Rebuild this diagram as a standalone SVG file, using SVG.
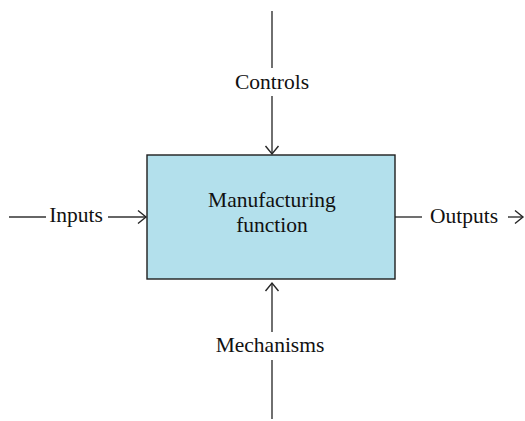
<svg xmlns="http://www.w3.org/2000/svg" width="525" height="421" viewBox="0 0 525 421">
<style>
.ln{stroke:#333333;stroke-width:1.4;fill:none}
.lbl{font-family:"Liberation Serif","Times New Roman",serif;font-size:21.5px;fill:#111111}
</style>
<defs>
<marker id="ah" viewBox="-10 -8 12 16" markerWidth="12" markerHeight="16" refX="0" refY="0" orient="auto" markerUnits="userSpaceOnUse">
<path d="M-8,-6.5 L0,0 L-8,6.5" fill="none" stroke="#262626" stroke-width="1.4"/>
</marker>
</defs>
<rect width="525" height="421" fill="#ffffff"/>
<g id="connectors">
<line class="ln" x1="272" y1="11" x2="272" y2="68"/>
<line class="ln" x1="272" y1="96" x2="272" y2="154" marker-end="url(#ah)"/>
<line class="ln" x1="272" y1="419" x2="272" y2="360"/>
<line class="ln" x1="272" y1="332" x2="272" y2="283" marker-end="url(#ah)"/>
<line class="ln" x1="9" y1="217" x2="46" y2="217"/>
<line class="ln" x1="108" y1="217" x2="146" y2="217" marker-end="url(#ah)"/>
<line class="ln" x1="395" y1="217" x2="422" y2="217"/>
<line class="ln" x1="508" y1="217" x2="523" y2="217" marker-end="url(#ah)"/>
</g>
<g id="function">
<rect x="147" y="155" width="248" height="124" fill="#b3e0ec" stroke="#1e1e1e" stroke-width="1.4"/>
<text class="lbl" x="272" y="207" text-anchor="middle">Manufacturing</text>
<text class="lbl" x="272" y="232" text-anchor="middle">function</text>
</g>
<g id="controls"><text class="lbl" x="272" y="89" text-anchor="middle">Controls</text></g>
<g id="mechanisms"><text class="lbl" x="270" y="352" text-anchor="middle">Mechanisms</text></g>
<g id="inputs"><text class="lbl" x="76" y="222" text-anchor="middle">Inputs</text></g>
<g id="outputs"><text class="lbl" x="464" y="223" text-anchor="middle">Outputs</text></g>
</svg>
